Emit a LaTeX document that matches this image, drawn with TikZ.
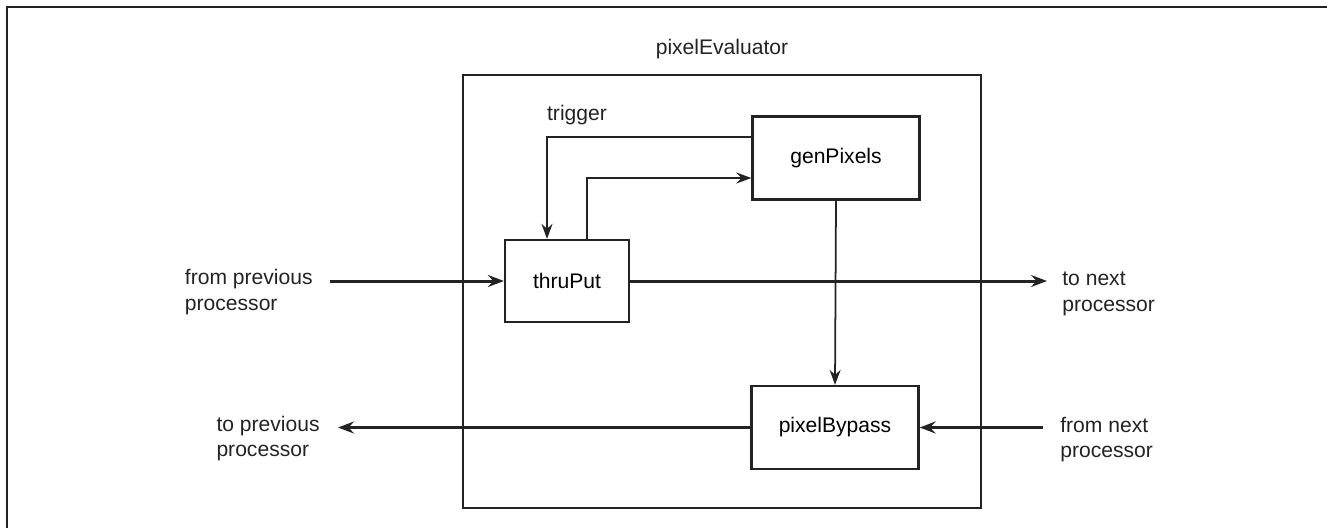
\documentclass[tikz,border=0pt]{standalone}
\usepackage{fontspec}
\setmainfont{Liberation Sans}
\usepackage{tikz}
\usetikzlibrary{positioning,arrows.meta,calc}
\definecolor{inkgray}{RGB}{35,35,35}
\tikzset{
  proc-node/.style={draw=inkgray, line width=1.3pt, minimum width=3.34cm,
    minimum height=1.66cm, align=center, inner sep=2pt},
  region-box/.style={draw=inkgray, line width=1.5pt, minimum width=10.36cm,
    minimum height=8.66cm, inner sep=0pt},
  port-label/.style={align=left, inner sep=0pt, text=inkgray},
  flow-arrow/.style={-{Stealth[length=3.2mm, width=2.4mm, inset=1.1mm]}, line width=1.7pt, draw=inkgray},
  ctrl-arrow/.style={-{Stealth[length=3mm, width=2.2mm, inset=1mm]}, line width=1.2pt, draw=inkgray},
  frame-line/.style={draw=inkgray, line width=1.4pt}
}
\begin{document}
\begin{tikzpicture}[x=0.02cm, y=-0.02cm, every node/.style={font=\fontsize{12}{14.7}\selectfont}]
\useasboundingbox (0,0) rectangle (1327,528);
% page frame (only top and left edges visible)
\draw[frame-line] (7,528) -- (7,7) -- (1327,7);

% Evaluator and its three processes
\node[region-box] (evaluator) at (722,291.5) {};
\node[port-label, above=0.3cm of evaluator.north] (evaluator-lbl) {pixelEvaluator};

\node[proc-node, minimum width=2.48cm, minimum height=1.64cm] (thruPut) at (567,281) {thruPut};
\node[proc-node] (genPixels) at (836,158) {genPixels};
\node[proc-node] (pixelBypass) at (835,427.5) {pixelBypass};

% Free ends of the outside connections
\coordinate (in-prev) at (330,281);
\coordinate (out-next) at (1047,281);
\coordinate (out-prev) at (338,427.5);
\coordinate (in-next) at (1043,427.5);

\node[port-label, left=0.34cm of in-prev, yshift=-0.22cm] (in-prev-lbl) {from previous\\processor};
\node[port-label, right=0.3cm of out-next, yshift=-0.26cm] (out-next-lbl) {to next\\processor};
\node[port-label, left=0.36cm of out-prev, yshift=-0.22cm] (out-prev-lbl) {to previous\\processor};
\node[port-label, right=0.34cm of in-next, yshift=-0.24cm] (in-next-lbl) {from next\\processor};

% Connections
\draw[flow-arrow] (in-prev) -- (thruPut.west);
\draw[flow-arrow] (thruPut.east) -- (out-next);
\draw[flow-arrow] (pixelBypass.west) -- (out-prev);
\draw[flow-arrow] (in-next) -- (pixelBypass.east);

\draw[ctrl-arrow] ([yshift=0.42cm]genPixels.west) -| ([xshift=-0.4cm]thruPut.north);
\draw[ctrl-arrow] ([xshift=0.4cm]thruPut.north) |- ([yshift=-0.4cm]genPixels.west);
\draw[ctrl-arrow, line width=1pt] (genPixels.south) -- (pixelBypass.north);

\node[port-label] (trigger-lbl) at (577,115) {trigger};
\end{tikzpicture}
\end{document}
